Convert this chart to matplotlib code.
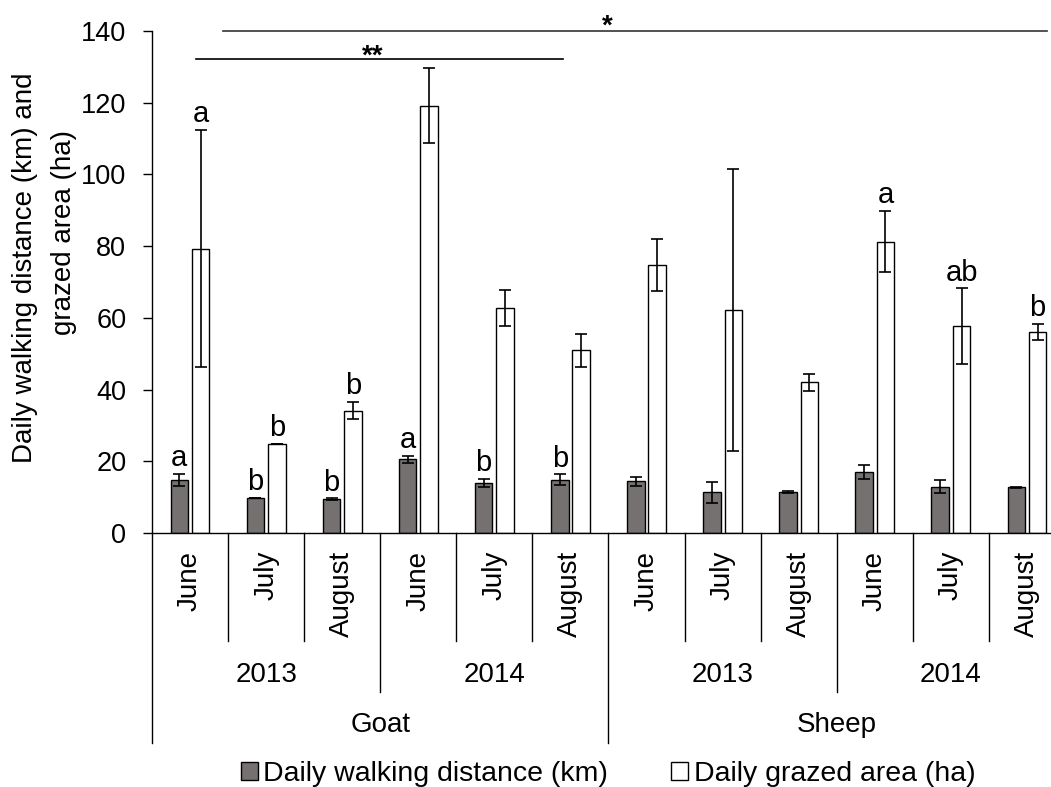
import numpy as np
import matplotlib
matplotlib.use('Agg')
import matplotlib.pyplot as plt

plt.rcParams['font.family'] = ['Liberation Sans', 'DejaVu Sans']

# data
animals = ['Goat', 'Sheep']
years = ['2013', '2014']
months = ['June', 'July', 'August']

walk_km = [14.9, 9.9, 9.5, 20.6, 14.0, 14.9,
           14.4, 11.4, 11.4, 17.0, 12.9, 12.7]
walk_err = [1.7, 0.0, 0.2, 1.0, 1.2, 1.6,
            1.2, 2.9, 0.2, 2.0, 1.8, 0.1]
area_ha = [79.3, 24.9, 34.1, 119.2, 62.8, 51.0,
           74.8, 62.3, 42.0, 81.3, 57.6, 56.1]
area_err = [33.0, 0.0, 2.4, 10.4, 5.1, 4.6,
            7.2, 39.3, 2.3, 8.5, 10.6, 2.3]

walk_letters = ['a', 'b', 'b', 'a', 'b', 'b', '', '', '', '', '', '']
area_letters = ['a', 'b', 'b', '', '', '', '', '', '', 'a', 'ab', 'b']

dark = '#767171'

fig = plt.figure(figsize=(10.51, 7.87), dpi=100)
# plot area runs a bit past the right edge, like the cropped reference
ax = fig.add_axes([0.1446, 0.3227, 0.8687, 0.6379])

x = np.arange(len(walk_km))
w = 0.23
off = 0.14
err_kw = dict(ecolor='black', elinewidth=1.2, capsize=4.5, capthick=1.2)

b1 = ax.bar(x - off, walk_km, w, yerr=walk_err, color=dark,
            edgecolor='black', linewidth=1.0, error_kw=err_kw,
            label='Daily walking distance (km)')
b2 = ax.bar(x + off, area_ha, w, yerr=area_err, color='white',
            edgecolor='black', linewidth=1.0, error_kw=err_kw,
            label='Daily grazed area (ha)')

# significance letters
for i in range(len(x)):
    if walk_letters[i]:
        ax.text(x[i] - off, walk_km[i] + walk_err[i] + 2.0, walk_letters[i],
                ha='center', va='baseline', fontsize=21)
    if area_letters[i]:
        ax.text(x[i] + off, area_ha[i] + area_err[i] + 2.2, area_letters[i],
                ha='center', va='baseline', fontsize=21)

# comparison lines at the top
ax.plot([0.43, 11.26], [140, 140], color='#333333', lw=1.2, clip_on=False)
ax.text(5.49, 139.2, '*', ha='center', va='baseline', fontsize=20,
        fontweight='bold', clip_on=False)
ax.plot([0.085, 4.9], [132.2, 132.2], color='black', lw=1.2, clip_on=False)
ax.text(2.4, 130.8, '**', ha='center', va='baseline', fontsize=20,
        fontweight='bold')

ax.set_xlim(-0.5, 11.5)
ax.set_ylim(0, 140)
ax.set_yticks(np.arange(0, 141, 20))
ax.tick_params(axis='y', labelsize=19.5, length=6.5, width=1.0, pad=12)
ax.set_xticks([])
for s in ['top', 'right']:
    ax.spines[s].set_visible(False)
for s in ['left', 'bottom']:
    ax.spines[s].set_linewidth(1.0)

# hierarchical category axis
trans = ax.get_xaxis_transform()
for i, m in enumerate(months * 4):
    ax.text(i, -0.036, m, transform=trans, rotation=90, ha='center',
            va='top', fontsize=20)
for xs in [0.5, 1.5, 3.5, 4.5, 6.5, 7.5, 9.5, 10.5]:
    ax.plot([xs, xs], [0, -0.215], transform=trans, color='black',
            lw=1.0, clip_on=False)
for xs in [2.5, 8.5]:
    ax.plot([xs, xs], [0, -0.317], transform=trans, color='black',
            lw=1.0, clip_on=False)
for xs in [-0.5, 5.5, 11.5]:
    ax.plot([xs, xs], [0, -0.418], transform=trans, color='black',
            lw=1.0, clip_on=False)
for j, yr in enumerate(years * 2):
    ax.text(1 + 3 * j, -0.283, yr, transform=trans, ha='center',
            va='center', fontsize=20)
for j, an in enumerate(animals):
    ax.text(2.5 + 6 * j, -0.3825, an, transform=trans, ha='center',
            va='center', fontsize=20)

# y label, two lines
fig.text(0.0238, 0.6595, 'Daily walking distance (km) and', rotation=90,
         ha='center', va='center', fontsize=20)
fig.text(0.0609, 0.7052, 'grazed area (ha)', rotation=90,
         ha='center', va='center', fontsize=20)

fig.legend(handles=[b1, b2], loc='center', bbox_to_anchor=(0.5785, 0.0165),
           ncol=2, frameon=False, fontsize=20.5, handlelength=0.6,
           handleheight=0.6, handletextpad=0.2, columnspacing=2.2,
           borderpad=0)

fig.savefig('out.png', dpi=100)
